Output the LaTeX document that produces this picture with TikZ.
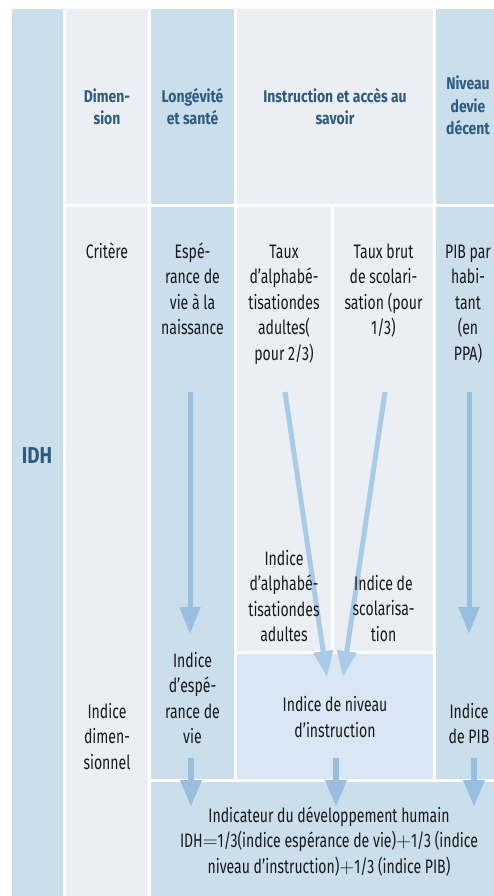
\documentclass[tikz,border=0pt]{standalone}
\usepackage{fontspec}
\setmainfont{Fira Sans}[FakeStretch=0.72,BoldFeatures={FakeStretch=0.82}]
\usetikzlibrary{arrows.meta}
\definecolor{colblue}{RGB}{203,222,236}
\definecolor{collight}{RGB}{235,239,245}
\definecolor{colmid}{RGB}{217,230,243}
\definecolor{hdr}{RGB}{45,92,128}
\definecolor{arrA}{RGB}{152,190,224}
\definecolor{arrB}{RGB}{170,203,231}
\definecolor{txt}{RGB}{25,25,25}
\begin{document}
\begin{tikzpicture}[x=1pt,y=-1pt,
  body/.style={font=\fontsize{19.5}{25.5}\selectfont, align=center, anchor=base, inner sep=0pt, text=txt},
  head/.style={font=\fontsize{17}{22.6}\selectfont\bfseries, align=center, anchor=base, inner sep=0pt, text=hdr},
  arrv/.style={line width=5pt, arrA, -{Triangle[width=20pt,length=27pt]}},
  arrs/.style={line width=5pt, arrB, -{Triangle[width=19pt,length=26pt]}},
  arrb/.style={line width=6.5pt, arrA, -{Triangle[width=20pt,length=27pt]}}]
\useasboundingbox (0,0) rectangle (494,896);
% background cells
\fill[colblue] (12,9) rectangle (63,896);
\fill[collight] (66,9) rectangle (148,204);
\fill[collight] (66,207) rectangle (148,896);
\fill[colblue] (151,9) rectangle (234,204);
\fill[colblue] (151,207) rectangle (234,779);
\fill[collight] (237,9) rectangle (433,204);
\fill[collight] (237,207) rectangle (331,651);
\fill[collight] (334,207) rectangle (433,651);
\fill[colmid] (237,654) rectangle (433,779);
\fill[colblue] (436,9) rectangle (494,204);
\fill[colblue] (436,207) rectangle (494,779);
\fill[colblue] (151,782) rectangle (494,896);
% arrow end points
\coordinate (lsS) at (190,392); \coordinate (lsE) at (190,634);
\coordinate (aS) at (285,392);  \coordinate (aE) at (327,677);
\coordinate (sS) at (385,392);  \coordinate (sE) at (343,677);
\coordinate (pS) at (469,392);  \coordinate (pE) at (469,634);
\coordinate (b1S) at (191,758); \coordinate (b1E) at (191,807);
\coordinate (b2S) at (336,758); \coordinate (b2E) at (336,807);
\coordinate (b3S) at (474,758); \coordinate (b3E) at (474,807);
\draw[arrv] (lsS) -- (lsE);
\draw[arrs] (aS) -- (aE);
\draw[arrs] (sS) -- (sE);
\draw[arrv] (pS) -- (pE);
\draw[arrb] (b1S) -- (b1E);
\draw[arrb] (b2S) -- (b2E);
\draw[arrb] (b3S) -- (b3E);
% headers (anchor = baseline of last line)
\node[head] (hdim) at (107,125) {Dimen-\\sion};
\node[head] (hlon) at (192.5,125) {Longévité\\et santé};
\node[head] (hins) at (335,125) {Instruction et accès au\\savoir};
\node[head] (hniv) at (468,135) {Niveau\\devie\\décent};
\node[head, font=\fontsize{23}{27}\selectfont\bfseries] (idh) at (37,463) {IDH};
% criteria
\node[body] (crit) at (107,258) {Critère};
\node[body] (esp) at (192.5,334.5) {Espé-\\rance de\\vie à la\\naissance};
\node[body] (alp) at (284,360) {Taux\\d’alphabé-\\tisationdes\\adultes(\\pour 2/3)};
\node[body] (sco) at (383.5,334.5) {Taux brut\\de scolari-\\sation (pour\\1/3)};
\node[body] (pib) at (468,360) {PIB par\\habi-\\tant\\(en\\PPA)};
% indices
\node[body] (ialp) at (284,641.5) {Indice\\d’alphabé-\\tisationdes\\adultes};
\node[body] (isco) at (383.5,641) {Indice de\\scolarisa-\\tion};
\node[body] (iesp) at (192.5,743.5) {Indice\\d’espé-\\rance de\\vie};
\node[body] (idim) at (107,769) {Indice\\dimen-\\sionnel};
\node[body] (iins) at (335,737) {Indice de niveau\\d’instruction};
\node[body] (ipib) at (469,743.5) {Indice\\de PIB};
\node[body] (final) at (329,873) {Indicateur du développement humain\\IDH$=$1/3(indice espérance de vie)$+$1/3 (indice\\niveau d’instruction)$+$1/3 (indice PIB)};
\end{tikzpicture}
\end{document}
